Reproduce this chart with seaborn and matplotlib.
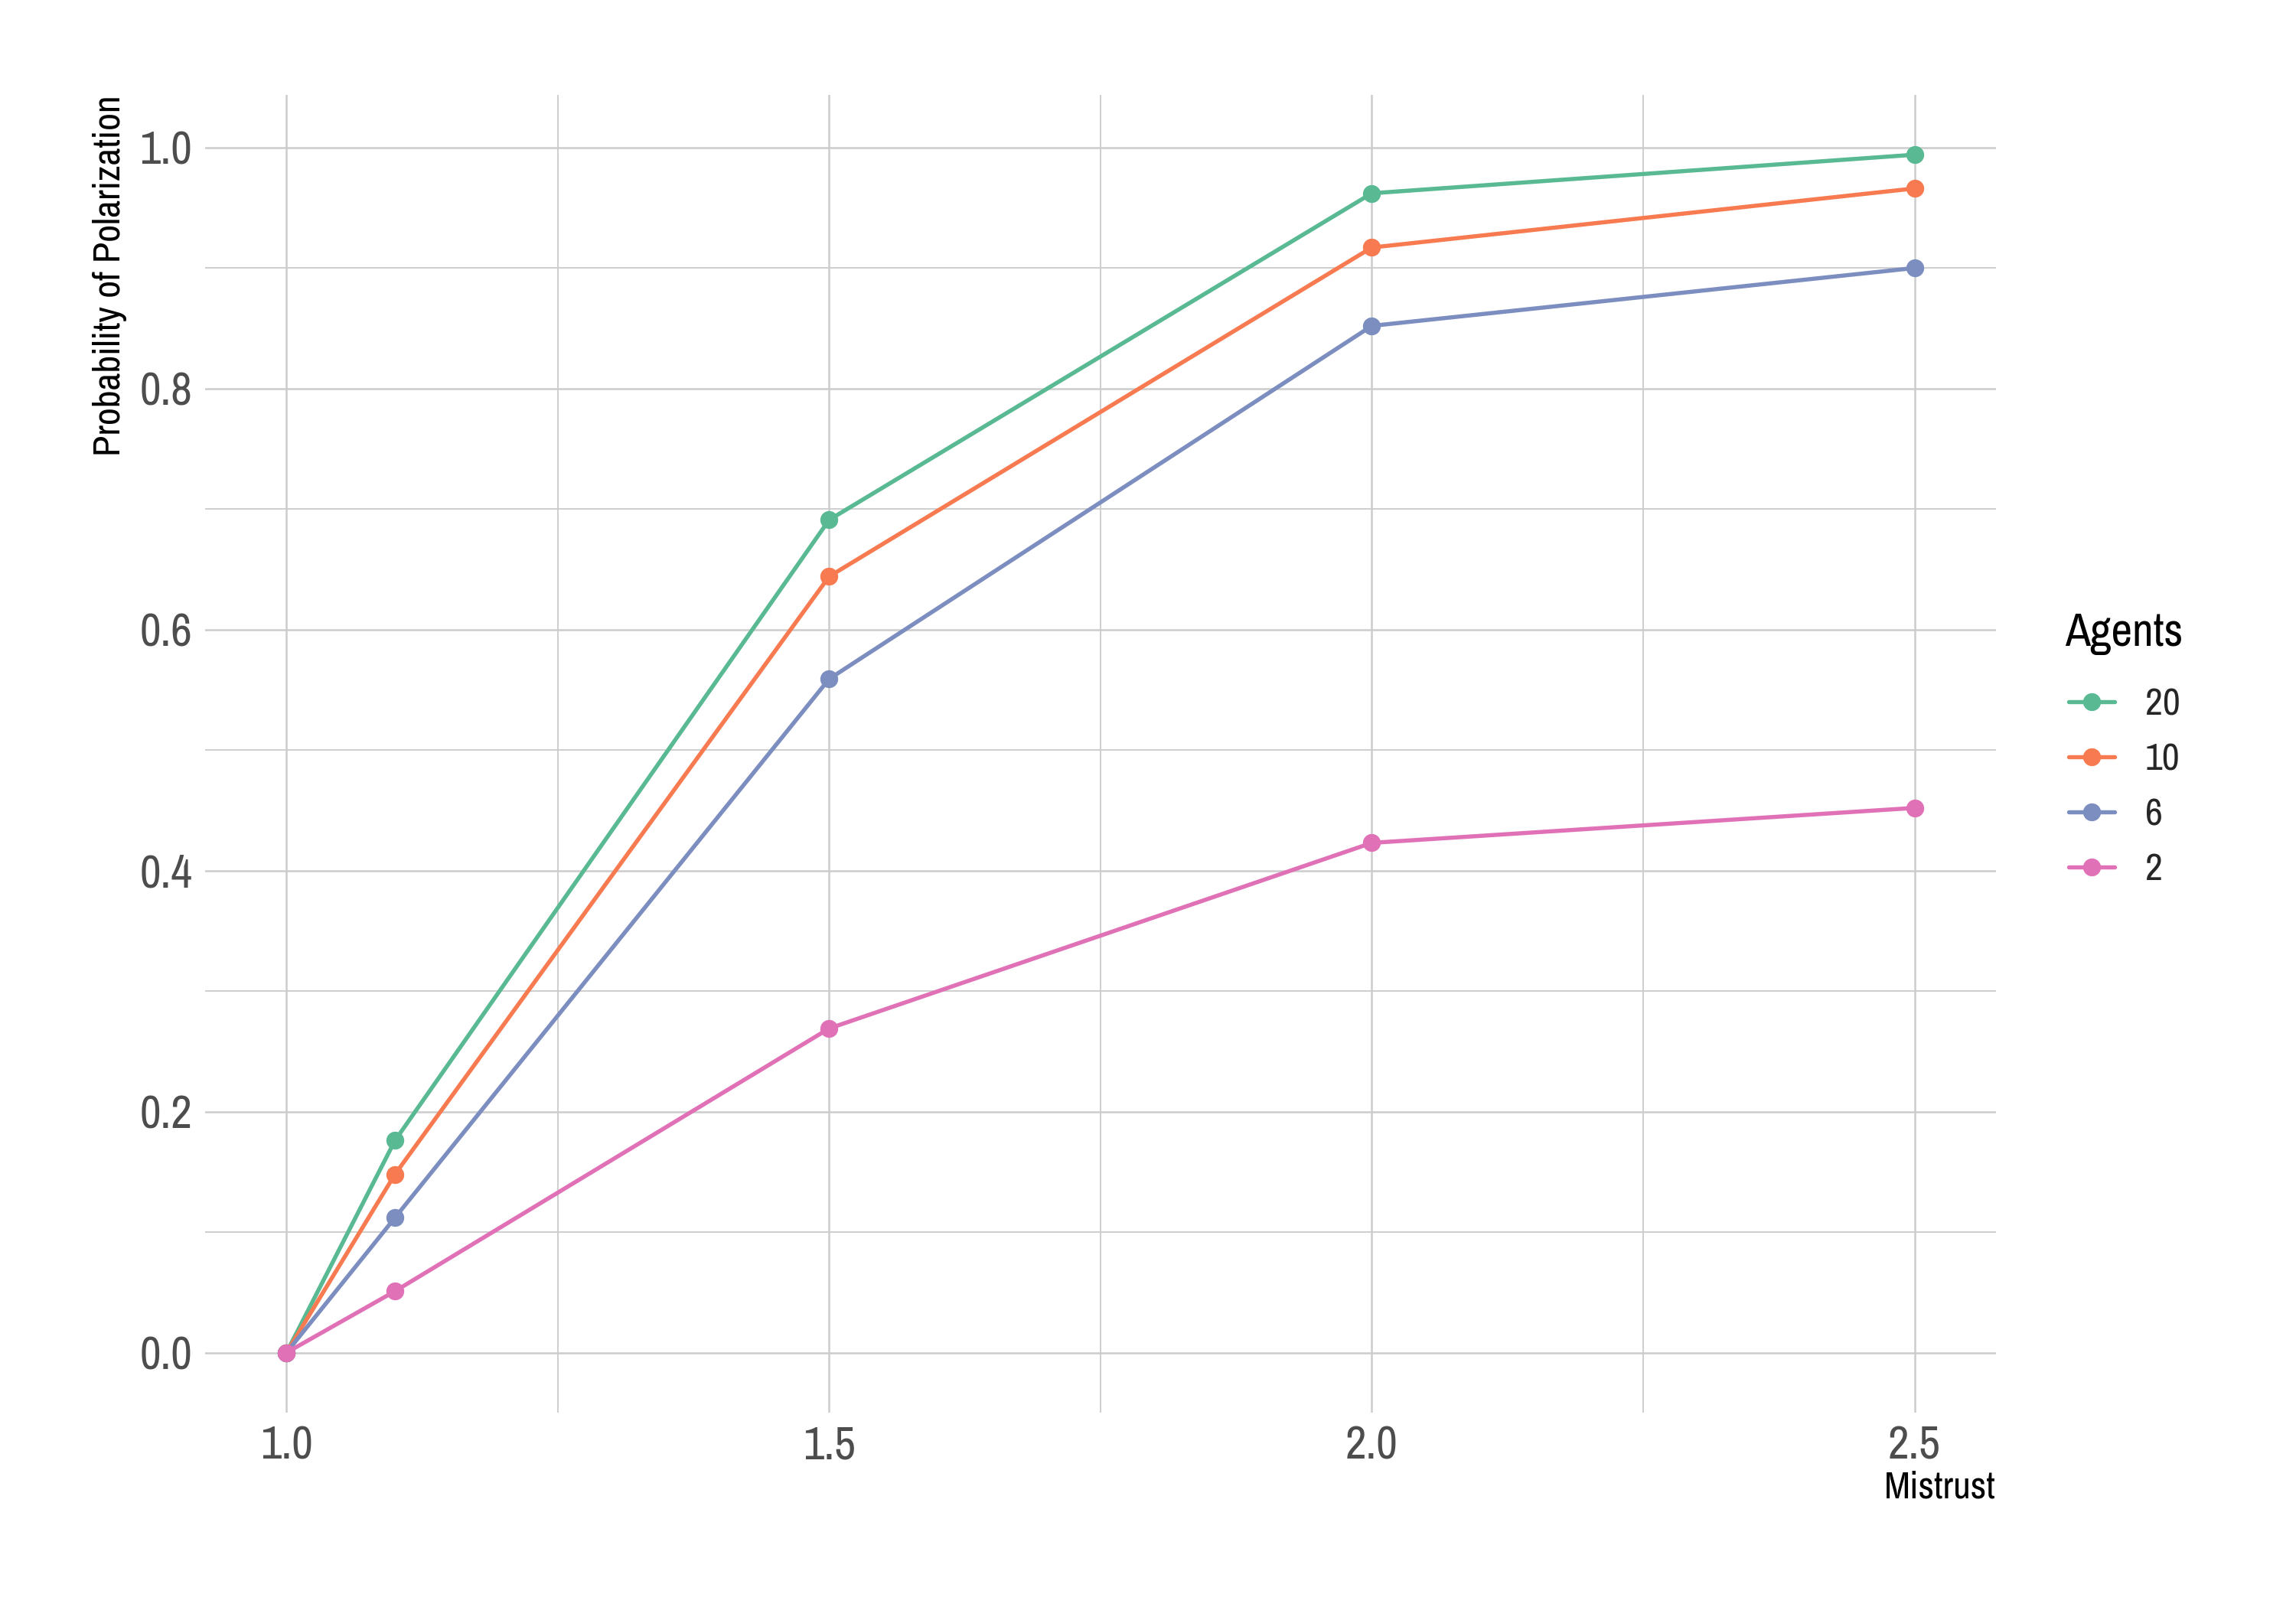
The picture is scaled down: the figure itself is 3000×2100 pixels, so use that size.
import matplotlib
matplotlib.use("Agg")
import matplotlib.pyplot as plt
from matplotlib import font_manager
from matplotlib.lines import Line2D
import seaborn as sns
import pandas as pd

mistrust = [1.0, 1.1, 1.5, 2.0, 2.5]
agents_order = ["20", "10", "6", "2"]
p20 = [0.0, 0.176, 0.691, 0.962, 0.994]
p10 = [0.0, 0.148, 0.644, 0.917, 0.966]
p6 = [0.0, 0.112, 0.559, 0.852, 0.900]
p2 = [0.0, 0.051, 0.269, 0.423, 0.452]
colors = {"20": "#58B993", "10": "#F77A50", "6": "#7C8DC0", "2": "#E071B7"}

rows = []
for lab, vals in zip(agents_order, [p20, p10, p6, p2]):
    for x, y in zip(mistrust, vals):
        rows.append({"Mistrust": x, "Prob": y, "Agents": lab})
df = pd.DataFrame(rows)

sns.set_theme(style="white")
fonts = font_manager.fontManager.ttflist
narrow = [f.name for f in fonts if ("narrow" in f.name.lower() or "condensed" in f.name.lower())]
narrow_stretch = [f.name for f in fonts if isinstance(f.stretch, str) and ("condensed" in f.stretch or "narrow" in f.stretch)]
cands = narrow + narrow_stretch
fam = cands[0] if cands else "Liberation Sans"
plt.rcParams["font.family"] = [fam, "DejaVu Sans"]
if not cands:
    plt.rcParams["font.stretch"] = "condensed"

fig = plt.figure(figsize=(10, 7), dpi=300)
ax = fig.add_axes([0.0893, 0.121, 0.78, 0.820])

sns.lineplot(data=df, x="Mistrust", y="Prob", hue="Agents", hue_order=agents_order,
             palette=colors, marker="o", markersize=5.6, markeredgewidth=0,
             linewidth=1.3, ax=ax, legend=False, zorder=3)

ax.set_xlim(0.925, 2.575)
ax.set_ylim(-0.0497, 1.0437)
ax.set_xticks([1.0, 1.5, 2.0, 2.5])
ax.set_xticklabels(["1.0", "1.5", "2.0", "2.5"])
ax.set_yticks([0.0, 0.2, 0.4, 0.6, 0.8, 1.0])
ax.set_yticklabels(["0.0", "0.2", "0.4", "0.6", "0.8", "1.0"])
ax.set_xticks([1.25, 1.75, 2.25], minor=True)
ax.set_yticks([0.1, 0.3, 0.5, 0.7, 0.9], minor=True)
ax.grid(True, which="major", color="#CCCCCC", linewidth=0.6, zorder=0)
ax.grid(True, which="minor", color="#CCCCCC", linewidth=0.45, zorder=0)
ax.set_axisbelow(True)
for s in ax.spines.values():
    s.set_visible(False)
ax.tick_params(axis="both", which="both", length=0, labelsize=14.5, labelcolor="#4D4D4D")
ax.tick_params(axis="x", pad=4)
ax.tick_params(axis="y", pad=4)

ax.set_xlabel("Mistrust", fontsize=12, color="black", loc="right", labelpad=1)
ax.set_ylabel("Probability of Polarization", fontsize=12, color="black", loc="top", labelpad=4)

fig.text(0.8993, 0.6055, "Agents", fontsize=14.5, color="black", ha="left", va="center")
handles = [Line2D([0], [0], color=colors[a], marker="o", markersize=5.6,
                  markeredgewidth=0, linewidth=1.3) for a in agents_order]
leg = fig.legend(handles, agents_order, loc="center left",
                 bbox_to_anchor=(0.886, 0.5102), frameon=False, fontsize=12,
                 handlelength=1.2, handletextpad=0.8, labelspacing=0.54)

fig.savefig("out.png", dpi=300, facecolor="white")
